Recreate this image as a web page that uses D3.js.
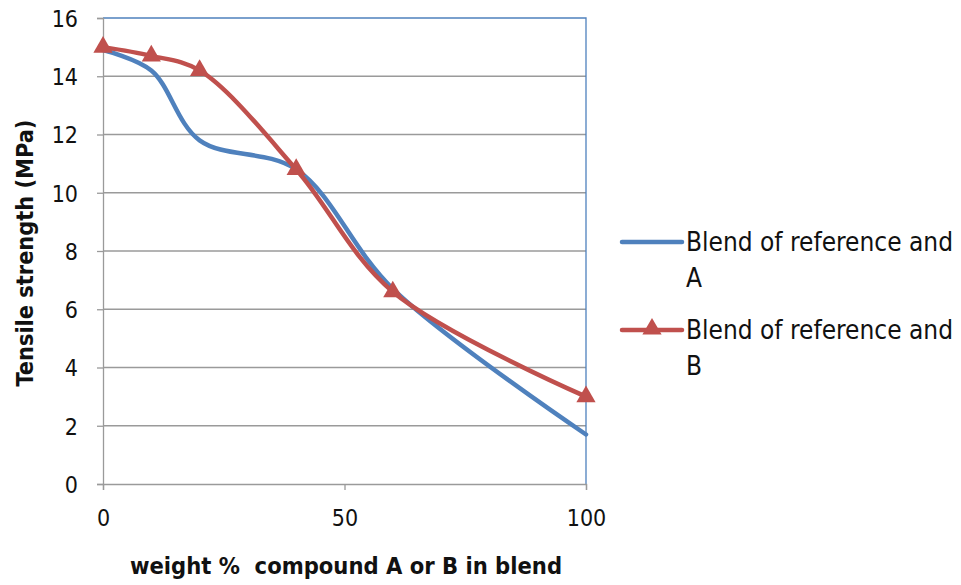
<!DOCTYPE html>
<html>
<head>
<meta charset="utf-8">
<script src="https://cdn.jsdelivr.net/npm/d3@7"></script>
<style>
  html, body { margin: 0; padding: 0; background: #fff; }
  svg { display: block; font-family: "DejaVu Sans Condensed", "DejaVu Sans", sans-serif; }
</style>
</head>
<body>
<svg id="chart" width="961" height="585"></svg>
<script>
// Weight % of compound in the blend
const weightPct = [0, 10, 20, 40, 60, 100];
// Tensile strength (MPa) for each blend
const blendA = [14.9, 14.2, 11.8, 10.8, 6.7, 1.7];
const blendB = [15.0, 14.7, 14.2, 10.8, 6.6, 3.0];
const yTicks = [0, 2, 4, 6, 8, 10, 12, 14, 16];
const xTicks = [0, 50, 100];

const fontFamily = "\"DejaVu Sans Condensed\", \"DejaVu Sans\", sans-serif";
const svg = d3.select("#chart");
const plot = { left: 103, right: 586, top: 18, bottom: 484 };

const x = d3.scaleLinear().domain([0, 100]).range([plot.left, plot.right]);
const y = d3.scaleLinear().domain([0, 16]).range([plot.bottom, plot.top]);

const gridColor = "#9a9a9a";
const blue = "#4F81BD";
const red = "#C0504D";
const ink = "#111";

// horizontal gridlines
svg.append("g").selectAll("line").data(yTicks.filter(d => d > 0 && d < 16)).join("line")
  .attr("x1", plot.left).attr("x2", plot.right)
  .attr("y1", d => y(d)).attr("y2", d => y(d))
  .attr("stroke", gridColor).attr("stroke-width", 1.3);

// plot border on top and right
svg.append("path")
  .attr("d", `M${plot.left},${y(16)}H${plot.right}V${plot.bottom}`)
  .attr("fill", "none").attr("stroke", blue).attr("stroke-width", 1.3);

// y axis
const yAxis = svg.append("g")
  .attr("transform", `translate(${plot.left},0)`)
  .call(d3.axisLeft(y).tickValues(yTicks).tickSize(6).tickPadding(19));
// x axis
const xAxis = svg.append("g")
  .attr("transform", `translate(0,${plot.bottom})`)
  .call(d3.axisBottom(x).tickValues(xTicks).tickSize(6).tickPadding(28));

[yAxis, xAxis].forEach(g => {
  g.attr("font-family", null).attr("font-size", null);
  g.select(".domain").attr("stroke", gridColor).attr("stroke-width", 1.3);
  g.selectAll(".tick line").attr("stroke", gridColor).attr("stroke-width", 1.3);
  g.selectAll(".tick text").attr("fill", ink)
    .style("font-size", "23px").style("font-family", fontFamily);
});
yAxis.selectAll(".tick text").attr("dy", "0.36em");
xAxis.selectAll(".tick text").attr("dy", "0.36em");

// axis titles
svg.append("text")
  .attr("x", 346).attr("y", 574).attr("text-anchor", "middle")
  .style("font-size", "23.5px").style("font-weight", "bold").style("white-space", "pre")
  .attr("fill", ink)
  .text("weight %  compound A or B in blend");
svg.append("text")
  .attr("transform", "translate(33,253) rotate(-90)").attr("text-anchor", "middle")
  .style("font-size", "23.3px").style("font-weight", "bold").attr("fill", ink)
  .text("Tensile strength (MPa)");

// smoothed series lines
const line = d3.line()
  .x(d => x(d[0])).y(d => y(d[1]))
  .curve(d3.curveCatmullRom.alpha(0.5));

const dataA = weightPct.map((w, i) => [w, blendA[i]]);
const dataB = weightPct.map((w, i) => [w, blendB[i]]);

svg.append("path").datum(dataA).attr("d", line)
  .attr("fill", "none").attr("stroke", blue).attr("stroke-width", 4.5)
  .attr("stroke-linecap", "round");
svg.append("path").datum(dataB).attr("d", line)
  .attr("fill", "none").attr("stroke", red).attr("stroke-width", 4.5)
  .attr("stroke-linecap", "round");

// triangle markers for series B
const tri = d3.symbol().type(d3.symbolTriangle).size(160);
svg.append("g").selectAll("path").data(dataB).join("path")
  .attr("transform", d => `translate(${x(d[0])},${y(d[1])})`)
  .attr("d", tri).attr("fill", red);

// legend
const legend = svg.append("g");
const legendItems = [
  { color: blue, marker: false, y: 242, lines: ["Blend of reference and", "A"] },
  { color: red, marker: true, y: 330, lines: ["Blend of reference and", "B"] }
];
legendItems.forEach(item => {
  legend.append("line")
    .attr("x1", 622).attr("x2", 682).attr("y1", item.y).attr("y2", item.y)
    .attr("stroke", item.color).attr("stroke-width", 4.5).attr("stroke-linecap", "round");
  if (item.marker) {
    legend.append("path").attr("transform", `translate(652,${item.y - 1})`)
      .attr("d", tri).attr("fill", item.color);
  }
  const t = legend.append("text").attr("x", 686).attr("y", item.y + 8.5)
    .style("font-size", "26px").attr("fill", ink);
  item.lines.forEach((s, i) => {
    t.append("tspan").attr("x", 686).attr("dy", i === 0 ? 0 : 36.5).text(s);
  });
});
</script>
</body>
</html>
